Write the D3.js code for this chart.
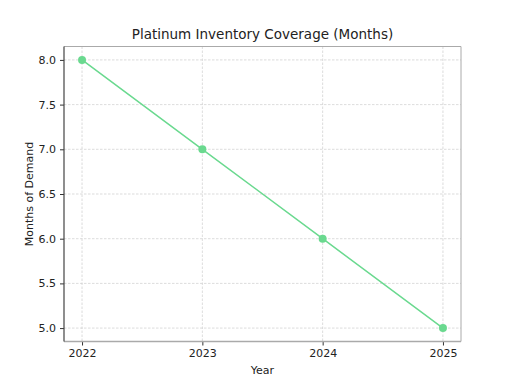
<!DOCTYPE html>
<html>
<head>
<meta charset="utf-8">
<script src="https://cdn.jsdelivr.net/npm/d3@7"></script>
<style>
  body { margin: 0; background: #fff; }
  svg text { font-family: "DejaVu Sans", sans-serif; fill: #222; }
</style>
</head>
<body>
<div id="chart"></div>
<script>
const years = [2022, 2023, 2024, 2025];
const months = [8.0, 7.0, 6.0, 5.0];
const yTicks = [5.0, 5.5, 6.0, 6.5, 7.0, 7.5, 8.0];

const width = 512, height = 384;
const margin = {top: 46.5, right: 51, bottom: 42.5, left: 64};

const svg = d3.select("#chart")
    .append("svg")
    .attr("width", width)
    .attr("height", height);

const x = d3.scaleLinear()
    .domain([2022 - 0.15, 2025 + 0.15])
    .range([margin.left, width - margin.right]);

const y = d3.scaleLinear()
    .domain([5.0 - 0.15, 8.0 + 0.15])
    .range([height - margin.bottom, margin.top]);

// grid
svg.append("g")
    .selectAll("line")
    .data(yTicks)
    .join("line")
    .attr("x1", margin.left).attr("x2", width - margin.right)
    .attr("y1", d => y(d)).attr("y2", d => y(d))
    .attr("stroke", "#c4c4c4").attr("stroke-width", 0.6)
    .attr("stroke-dasharray", "2.5,1.5");

svg.append("g")
    .selectAll("line")
    .data(years)
    .join("line")
    .attr("x1", d => x(d)).attr("x2", d => x(d))
    .attr("y1", margin.top).attr("y2", height - margin.bottom)
    .attr("stroke", "#c4c4c4").attr("stroke-width", 0.6)
    .attr("stroke-dasharray", "2.5,1.5");

// axes
const xAxis = svg.append("g")
    .attr("transform", `translate(0,${height - margin.bottom})`)
    .call(d3.axisBottom(x).tickValues(years).tickFormat(d3.format("d")).tickSize(4).tickPadding(4));

const yAxis = svg.append("g")
    .attr("transform", `translate(${margin.left},0)`)
    .call(d3.axisLeft(y).tickValues(yTicks).tickFormat(d3.format(".1f")).tickSize(4).tickPadding(4));

[xAxis, yAxis].forEach(a => {
    a.select(".domain").remove();
    a.selectAll("text").style("font-size", "11px").attr("fill", "#222");
    a.selectAll(".tick line").attr("stroke", "#333");
});

// spines
svg.append("line")
    .attr("x1", margin.left).attr("x2", width - margin.right)
    .attr("y1", margin.top).attr("y2", margin.top)
    .attr("stroke", "#aaa").attr("stroke-width", 1);
svg.append("line")
    .attr("x1", width - margin.right).attr("x2", width - margin.right)
    .attr("y1", margin.top).attr("y2", height - margin.bottom)
    .attr("stroke", "#aaa").attr("stroke-width", 1);
svg.append("line")
    .attr("x1", margin.left).attr("x2", width - margin.right)
    .attr("y1", height - margin.bottom).attr("y2", height - margin.bottom)
    .attr("stroke", "#aaa").attr("stroke-width", 1.5);
svg.append("line")
    .attr("x1", margin.left).attr("x2", margin.left)
    .attr("y1", margin.top).attr("y2", height - margin.bottom)
    .attr("stroke", "#444").attr("stroke-width", 1.2);

// line + points
const line = d3.line()
    .x((d, i) => x(years[i]))
    .y(d => y(d));

svg.append("path")
    .datum(months)
    .attr("d", line)
    .attr("fill", "none")
    .attr("stroke", "#6ad98f")
    .attr("stroke-width", 1.5);

svg.selectAll(".pt")
    .data(months)
    .join("circle")
    .attr("class", "pt")
    .attr("cx", (d, i) => x(years[i]))
    .attr("cy", d => y(d))
    .attr("r", 4)
    .attr("fill", "#6ad98f");

// labels
svg.append("text")
    .attr("x", (margin.left + width - margin.right) / 2)
    .attr("y", 39)
    .attr("text-anchor", "middle")
    .style("font-size", "13.5px")
    .text("Platinum Inventory Coverage (Months)");

svg.append("text")
    .attr("x", (margin.left + width - margin.right) / 2)
    .attr("y", 374)
    .attr("text-anchor", "middle")
    .style("font-size", "11px")
    .text("Year");

svg.append("text")
    .attr("transform", `translate(33,${(margin.top + height - margin.bottom) / 2}) rotate(-90)`)
    .attr("text-anchor", "middle")
    .style("font-size", "11px")
    .text("Months of Demand");
</script>
</body>
</html>
